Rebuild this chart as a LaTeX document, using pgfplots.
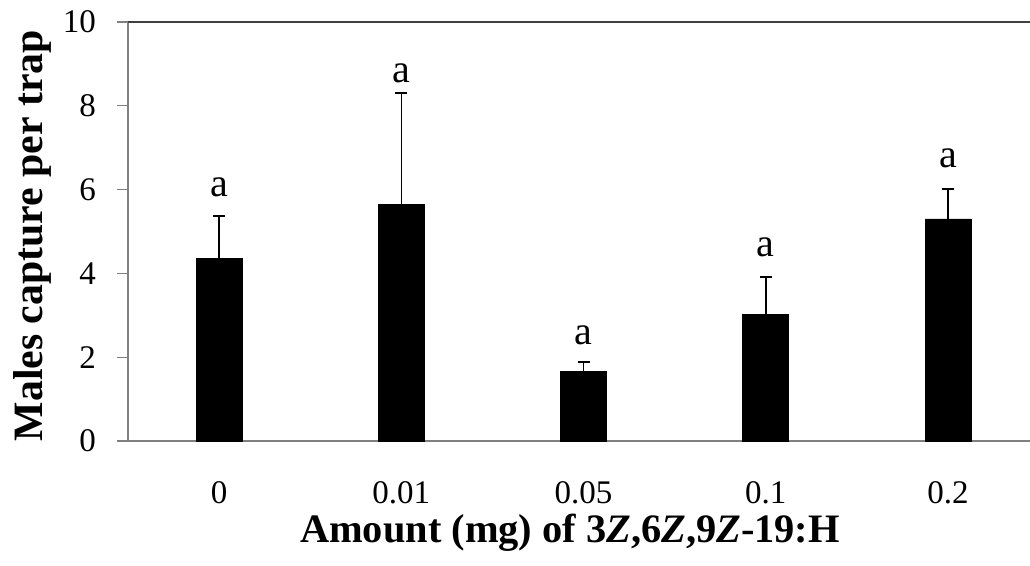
\documentclass[border=0pt]{standalone}
\usepackage{pgfplots}
\pgfplotsset{compat=1.18}
\usepackage{fontspec}
\setmainfont{Liberation Serif}
\begin{document}
\begin{tikzpicture}
\useasboundingbox (-64pt,-62.5pt) rectangle (451pt,220.5pt);
\begin{axis}[
  at={(0,0)}, anchor=south west,
  scale only axis, width=451pt, height=209.5pt,
  xmin=-0.5, xmax=4.45, ymin=0, ymax=10,
  axis x line=bottom, axis y line=left,
  axis line style={-, draw=black!50, line width=0.6pt},
  xtick={0,1,2,3,4}, xticklabels={0,0.01,0.05,0.1,0.2},
  x tick style={draw=none},
  ytick={0,2,4,6,8,10},
  tick align=outside, major tick length=5.5pt,
  y tick style={draw=black!50, line width=0.6pt},
  tick label style={font=\fontsize{16.5}{19}\selectfont},
  xticklabel style={yshift=-11pt},
  yticklabel style={xshift=-7pt},
  /pgf/number format/assume math mode=true,
  extra y ticks={10}, extra y tick labels={},
  extra y tick style={ymajorgrids=true, major grid style={draw=black!75, line width=1.1pt}},
  xlabel={\textbf{Amount (mg) of 3\textit{Z},6\textit{Z},9\textit{Z}-19:H}},
  xlabel style={at={(axis description cs:0.49,-0.218)}, anchor=center, font=\fontsize{20.2}{23}\selectfont},
  ylabel={\textbf{Males capture per trap}},
  ylabel style={at={(axis description cs:-0.1064,0.49)}, anchor=center, font=\fontsize{20.9}{24}\selectfont},
  clip=false,
]
\addplot[ybar, bar width=23pt, fill=black, draw=black,
  error bars/.cd, y dir=plus, y explicit,
  error bar style={line width=0.8pt, black},
  error mark options={rotate=90, mark size=3pt, line width=0.8pt, black}]
  coordinates {
    (0,4.36) +- (0,1.01)
    (1,5.65) +- (0,2.66)
    (2,1.67) +- (0,0.22)
    (3,3.01) +- (0,0.90)
    (4,5.30) +- (0,0.71)
  };
\addplot[draw=none, mark=none, nodes near coords={a},
  every node near coord/.append style={anchor=base, inner sep=0pt, font=\fontsize{20}{23}\selectfont}]
  coordinates {
    (0,5.83)
    (1,8.56)
    (2,2.30)
    (3,4.41)
    (4,6.52)
  };
\end{axis}
\end{tikzpicture}
\end{document}
